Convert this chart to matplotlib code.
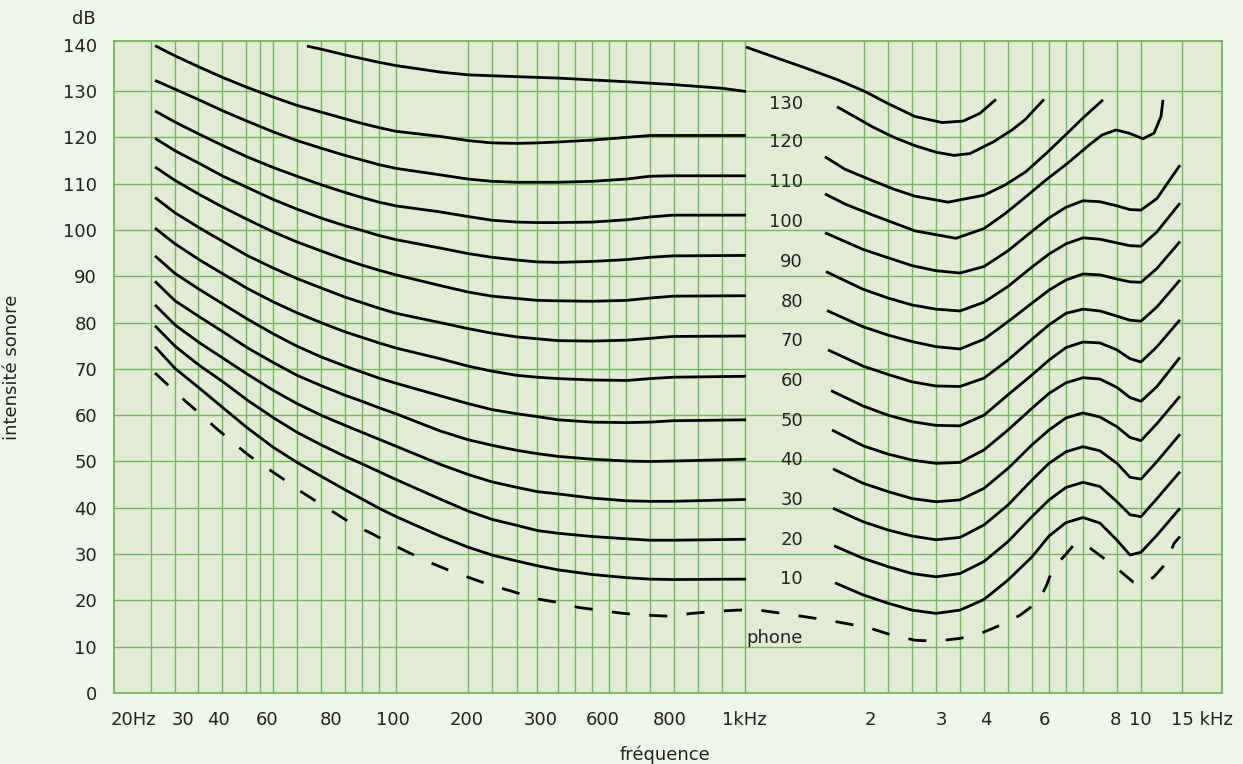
import matplotlib
matplotlib.use("Agg")
import matplotlib.pyplot as plt

################# data #################
# x is the position along the (hand drawn, non uniform) frequency axis
# y is the sound level in dB

# frequency ticks
tick_pos = [133, 183, 218, 267, 331, 393, 467, 541, 603, 670, 744, 870, 941, 986, 1044, 1115, 1140, 1202]
tick_labels = ["20Hz", "30", "40", "60", "80", "100", "200", "300", "600", "800", "1kHz",
               "2", "3", "4", "6", "8", "10", "15 kHz"]
# vertical grid lines of the paper
vgrid_pos = [150.7, 174.7, 198.3, 222.3, 246.3, 260, 273.3, 297.3, 321.3, 345.3, 362.3, 379.3, 396.3,
             468, 492, 516.7, 537, 558, 575, 592, 609, 626, 650, 673.7, 697.7, 721.7, 745.3,
             864, 887.7, 912.3, 936.3, 960.3, 984.3, 1008, 1032, 1049, 1066, 1083, 1117, 1140.7, 1182.3]
db_ticks = [0, 10, 20, 30, 40, 50, 60, 70, 80, 90, 100, 110, 120, 130, 140]

# left part (20 Hz - 1 kHz)
left_pos = [155, 175, 199, 223, 247, 273, 297, 322, 345, 362, 379, 396, 440, 468, 492, 517, 537, 558, 592, 627, 650, 673, 746]
left_c1 = [139.8, 137.6, 135.2, 132.9, 130.8, 128.7, 126.9, 125.4, 124.0, 123.0, 122.1, 121.3, 120.2, 119.3, 118.8, 118.7, 118.8, 119.0, 119.4, 120.0, 120.4, 120.4, 120.4]
left_c2 = [132.3, 130.4, 128.1, 125.7, 123.5, 121.2, 119.3, 117.6, 116.1, 115.1, 114.1, 113.3, 111.9, 111.0, 110.5, 110.3, 110.3, 110.3, 110.5, 111.0, 111.6, 111.7, 111.7]
left_c3 = [125.7, 123.3, 120.7, 118.2, 115.8, 113.5, 111.6, 109.7, 108.1, 107.0, 106.0, 105.2, 103.9, 102.9, 102.1, 101.7, 101.6, 101.6, 101.7, 102.2, 102.8, 103.2, 103.2]
left_c4 = [119.8, 117.1, 114.4, 111.6, 109.2, 106.6, 104.5, 102.5, 100.9, 99.9, 98.8, 97.9, 96.1, 94.9, 94.1, 93.5, 93.1, 93.0, 93.2, 93.6, 94.1, 94.4, 94.5]
left_c5 = [113.6, 110.7, 107.7, 104.9, 102.3, 99.6, 97.4, 95.4, 93.6, 92.4, 91.3, 90.3, 88.0, 86.6, 85.7, 85.2, 84.8, 84.7, 84.6, 84.8, 85.3, 85.7, 85.8]
left_c6 = [107.0, 103.7, 100.5, 97.5, 94.5, 91.8, 89.5, 87.4, 85.5, 84.3, 83.1, 82.0, 80.0, 78.7, 77.7, 76.9, 76.5, 76.1, 76.0, 76.2, 76.6, 77.0, 77.1]
left_c7 = [100.4, 97.0, 93.6, 90.5, 87.4, 84.5, 82.1, 79.9, 78.0, 76.8, 75.6, 74.5, 72.2, 70.6, 69.5, 68.6, 68.2, 67.9, 67.6, 67.5, 67.9, 68.2, 68.4]
left_c8 = [94.4, 90.6, 87.2, 84.0, 80.8, 77.6, 74.9, 72.5, 70.6, 69.3, 68.0, 66.9, 64.2, 62.5, 61.2, 60.3, 59.7, 59.0, 58.5, 58.4, 58.5, 58.8, 59.0]
left_c9 = [88.9, 84.7, 81.3, 78.0, 74.6, 71.4, 68.6, 66.3, 64.3, 63.0, 61.6, 60.3, 56.6, 54.7, 53.5, 52.4, 51.7, 51.1, 50.5, 50.1, 50.0, 50.1, 50.5]
left_c10 = [83.8, 79.5, 75.7, 72.3, 68.9, 65.4, 62.5, 59.9, 57.8, 56.3, 54.8, 53.3, 49.4, 47.2, 45.6, 44.4, 43.5, 43.0, 42.1, 41.5, 41.4, 41.4, 41.8]
left_c11 = [79.3, 74.9, 70.8, 67.2, 63.3, 59.5, 56.3, 53.5, 51.1, 49.5, 47.8, 46.1, 41.9, 39.3, 37.5, 36.2, 35.1, 34.5, 33.8, 33.3, 33.0, 33.0, 33.2]
left_c12 = [74.8, 70.1, 65.9, 61.6, 57.3, 53.1, 49.8, 46.7, 43.9, 41.9, 39.9, 38.1, 33.9, 31.5, 29.8, 28.5, 27.5, 26.6, 25.6, 24.9, 24.6, 24.5, 24.6]
# top curve of the left part, starts at 80 Hz
top_left_pos = [307, 322, 345, 362, 379, 396, 440, 468, 492, 517, 558, 592, 627, 673, 722, 746]
top_left_db = [139.7, 139.0, 137.8, 137.0, 136.2, 135.5, 134.1, 133.5, 133.3, 133.1, 132.8, 132.4, 132.0, 131.4, 130.6, 129.9]

# right part (1 kHz - 15 kHz)
top_right_pos = [746, 780, 804, 838, 865, 887, 915, 942, 963, 980, 996]
top_right_db = [139.5, 136.9, 135.1, 132.4, 129.9, 127.4, 124.5, 123.2, 123.5, 125.2, 128.2]
r1_pos = [837, 856, 873, 894, 915, 936, 954, 970, 994, 1012, 1025, 1044]
r1_db = [126.6, 124.3, 122.2, 120.0, 118.2, 116.8, 116.1, 116.5, 119.1, 121.6, 123.8, 128.2]
r2_pos = [825, 845, 873, 894, 915, 948, 984, 1005, 1026, 1046, 1064, 1084, 1103]
r2_db = [115.8, 113.1, 110.6, 108.8, 107.3, 106.0, 107.5, 109.7, 112.6, 116.5, 120.2, 124.4, 128.1]
r3_pos = [825, 845, 873, 915, 956, 984, 1005, 1026, 1046, 1067, 1090, 1102, 1116, 1129, 1143, 1154, 1161, 1163]
r3_db = [107.8, 105.6, 103.2, 99.8, 98.2, 100.3, 103.5, 107.2, 110.8, 114.3, 118.5, 120.5, 121.6, 120.9, 119.7, 120.9, 124.5, 128.1]

# curves 100 ... 10 phon of the right part share the same positions after the first point
right_start = [825, 826, 827, 828, 831, 832, 833, 833, 834, 835]
right_pos = [863, 888, 912, 936, 960, 984, 1008, 1032, 1049, 1066, 1083, 1100, 1117, 1130, 1141, 1157, 1180]
r4_db = [99.4, 95.8, 94.0, 92.3, 91.2, 90.7, 92.1, 95.5, 99.7, 102.6, 104.9, 106.3, 106.1, 105.2, 104.4, 104.3, 106.8, 114.0]
r5_db = [91.0, 87.2, 85.3, 83.8, 82.9, 82.5, 84.4, 87.8, 92.0, 94.8, 97.0, 98.3, 98.0, 97.2, 96.6, 96.5, 99.6, 105.8]
r6_db = [82.6, 79.1, 77.3, 75.9, 74.8, 74.3, 76.4, 80.2, 84.2, 87.0, 89.2, 90.5, 90.3, 89.4, 88.8, 88.7, 91.7, 97.5]
r7_db = [74.1, 70.6, 68.8, 67.2, 66.3, 66.2, 68.0, 71.9, 76.4, 79.5, 82.0, 82.9, 82.5, 81.4, 80.5, 80.3, 83.4, 89.2]
r8_db = [65.3, 62.0, 60.0, 58.6, 57.8, 57.7, 60.0, 64.4, 68.7, 71.9, 74.6, 75.8, 75.6, 74.1, 72.2, 71.5, 74.8, 80.6]
r9_db = [56.8, 53.4, 51.6, 50.3, 49.6, 49.8, 52.5, 56.8, 61.5, 64.7, 67.0, 68.1, 67.8, 66.0, 63.8, 63.0, 66.2, 72.5]
r10_db = [48.4, 45.3, 43.5, 42.0, 41.3, 41.7, 44.2, 48.5, 53.6, 56.8, 59.4, 60.5, 59.6, 57.5, 55.2, 54.5, 58.2, 64.1]
r11_db = [39.9, 37.0, 35.2, 33.9, 33.1, 33.6, 36.3, 40.6, 46.0, 49.6, 52.1, 53.2, 52.3, 49.6, 46.6, 46.2, 50.0, 55.9]
r12_db = [31.8, 29.1, 27.3, 25.8, 25.1, 25.8, 28.4, 32.7, 38.1, 41.7, 44.4, 45.5, 44.6, 41.3, 38.5, 38.1, 42.0, 47.8]
r13_db = [23.8, 21.2, 19.4, 17.9, 17.2, 17.9, 20.2, 24.4, 29.4, 33.9, 36.8, 37.9, 36.7, 33.0, 29.8, 30.4, 34.1, 39.9]

# threshold of hearing (dashed)
thr_pos = [155, 169, 185, 199, 216, 231, 247, 264, 282, 298, 317, 334, 353, 372, 392, 410, 431, 450, 472, 492,
           513, 535, 557, 578, 602, 623, 647, 669, 692, 713, 737, 759, 782, 804, 826, 849, 870, 892, 915, 936,
           960, 981, 1001, 1020, 1038, 1046, 1053, 1066, 1075, 1085, 1102, 1117, 1133, 1143, 1154, 1166, 1174, 1180]
thr_db = [69.1, 66.3, 63.1, 60.5, 57.2, 54.5, 51.6, 49.0, 46.4, 43.9, 41.3, 39.0, 36.4, 34.4, 32.1, 30.2, 28.1, 26.4, 24.7, 23.2,
          21.9, 20.4, 19.6, 18.5, 17.8, 17.2, 16.8, 16.6, 17.2, 17.6, 17.9, 17.9, 17.2, 16.5, 15.8, 14.9, 14.0, 12.5, 11.4, 11.2,
          11.8, 12.9, 14.7, 16.8, 19.7, 23.0, 26.9, 30.0, 32.3, 32.1, 29.4, 26.9, 24.0, 23.5, 25.1, 28.0, 32.3, 33.8]

# phon labels in the middle of the chart
phon_labels = ["130", "120", "110", "100", "90", "80", "70", "60", "50", "40", "30", "20", "10"]
phon_label_db = [127.7, 119.3, 110.8, 102.2, 93.5, 84.9, 76.4, 67.7, 59.1, 50.7, 42.1, 33.5, 25.0]

################# style #################
FIG_BG = "#EFF5E9"
PAPER = "#E2ECD4"
GRID = "#74B65E"
INK = "#222222"
plt.rcParams["font.family"] = ["DejaVu Sans"]
plt.rcParams["font.size"] = 13

fig = plt.figure(figsize=(12.43, 7.64), dpi=100, facecolor=FIG_BG)
ax = fig.add_axes([0.0915, 0.0929, 0.8916, 0.8534])
ax.set_facecolor(PAPER)
ax.set_xlim(113.7, 1222)
ax.set_ylim(0, 140.8)

# paper grid
for p in vgrid_pos:
    ax.axvline(p, color=GRID, lw=1.0, zorder=1)
for d in db_ticks[1:-1]:
    ax.axhline(d, color=GRID, lw=1.0, zorder=1)
for s in ax.spines.values():
    s.set_color(GRID)
    s.set_linewidth(1.3)

# curves
line_kw = dict(color="black", lw=2.0, solid_capstyle="butt", solid_joinstyle="round", zorder=3)
for c in [left_c1, left_c2, left_c3, left_c4, left_c5, left_c6, left_c7, left_c8, left_c9, left_c10, left_c11, left_c12]:
    ax.plot(left_pos, c, **line_kw)
ax.plot(top_left_pos, top_left_db, **line_kw)
ax.plot(top_right_pos, top_right_db, **line_kw)
ax.plot(r1_pos, r1_db, **line_kw)
ax.plot(r2_pos, r2_db, **line_kw)
ax.plot(r3_pos, r3_db, **line_kw)
for x0, c in zip(right_start, [r4_db, r5_db, r6_db, r7_db, r8_db, r9_db, r10_db, r11_db, r12_db, r13_db]):
    ax.plot([x0] + right_pos, c, **line_kw)
ax.plot(thr_pos, thr_db, color="black", lw=2.0, ls=(0, (6.5, 7)), dash_capstyle="butt", zorder=3)

# labels inside the chart
for lab, d in zip(phon_labels, phon_label_db):
    ax.text(803, d - 0.4, lab, ha="right", va="center", color=INK, fontsize=13, zorder=4)
ax.text(803, 12.3 - 0.4, "phone", ha="right", va="center", color=INK, fontsize=13, zorder=4)

# axes
ax.set_xticks(tick_pos)
ax.set_xticklabels(tick_labels)
ax.set_yticks(db_ticks)
ax.tick_params(axis="x", length=0, pad=13, labelcolor=INK, labelsize=13)
ax.tick_params(axis="y", length=0, pad=12, labelcolor=INK, labelsize=13)

fig.text(84 / 1243, 1 - 19 / 764, "dB", ha="center", va="center", color=INK, fontsize=13)
fig.text(12 / 1243, 1 - 367 / 764, "intensité sonore", ha="center", va="center", rotation=90, color=INK, fontsize=13)
fig.text(665 / 1243, 1 - 755 / 764, "fréquence", ha="center", va="center", color=INK, fontsize=13)

fig.savefig("out.png", dpi=100, facecolor=FIG_BG)
